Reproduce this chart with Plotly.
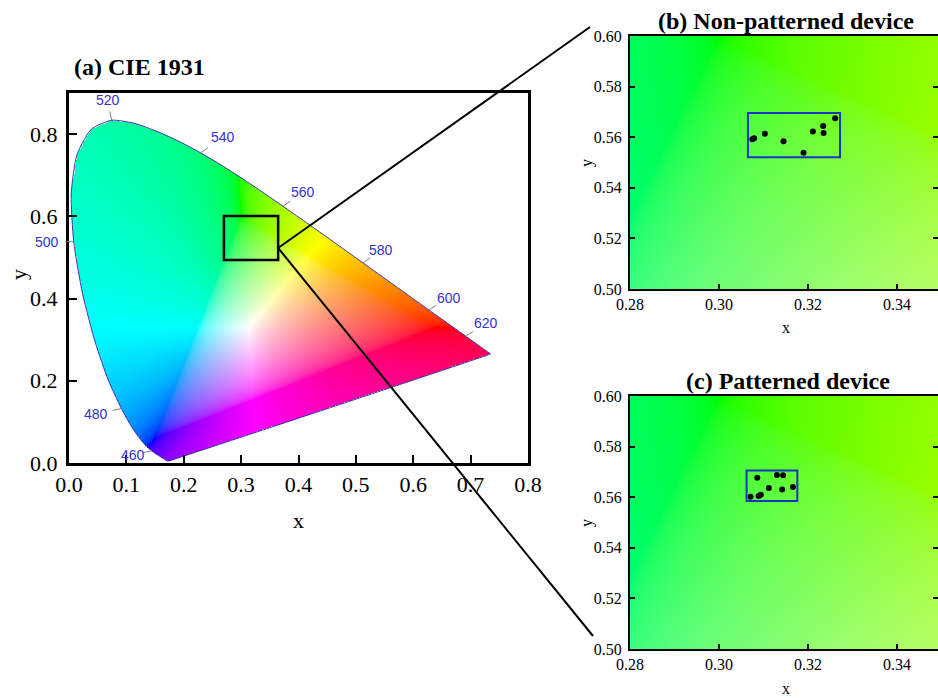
import numpy as np
import plotly.graph_objects as go

# ---------------- data ----------------
# CIE 1931 2-degree spectral locus (chromaticity x, y), 380-700 nm every 5 nm
wavelengths = list(range(380, 705, 5))
locus_x = [0.1741, 0.1740, 0.1738, 0.1736, 0.1733, 0.1730, 0.1726, 0.1721, 0.1714, 0.1703,
           0.1689, 0.1669, 0.1644, 0.1611, 0.1566, 0.1510, 0.1440, 0.1355, 0.1241, 0.1096,
           0.0913, 0.0687, 0.0454, 0.0235, 0.0082, 0.0039, 0.0139, 0.0389, 0.0743, 0.1142,
           0.1547, 0.1929, 0.2296, 0.2658, 0.3016, 0.3373, 0.3731, 0.4087, 0.4441, 0.4788,
           0.5125, 0.5448, 0.5752, 0.6029, 0.6270, 0.6482, 0.6658, 0.6801, 0.6915, 0.7006,
           0.7079, 0.7140, 0.7190, 0.7230, 0.7260, 0.7283, 0.7300, 0.7311, 0.7320, 0.7327,
           0.7334, 0.7340, 0.7344, 0.7346, 0.7347]
locus_y = [0.0050, 0.0050, 0.0049, 0.0049, 0.0048, 0.0048, 0.0048, 0.0048, 0.0051, 0.0058,
           0.0069, 0.0086, 0.0109, 0.0138, 0.0177, 0.0227, 0.0297, 0.0399, 0.0578, 0.0868,
           0.1327, 0.2007, 0.2950, 0.4127, 0.5384, 0.6548, 0.7502, 0.8120, 0.8338, 0.8262,
           0.8059, 0.7816, 0.7543, 0.7243, 0.6923, 0.6589, 0.6245, 0.5896, 0.5547, 0.5202,
           0.4866, 0.4544, 0.4242, 0.3965, 0.3725, 0.3514, 0.3340, 0.3197, 0.3083, 0.2993,
           0.2920, 0.2859, 0.2809, 0.2770, 0.2740, 0.2717, 0.2700, 0.2689, 0.2680, 0.2673,
           0.2666, 0.2660, 0.2656, 0.2654, 0.2653]
label_wavelengths = [460, 480, 500, 520, 540, 560, 580, 600, 620]

# zoom region marked in panel (a): x0, x1, y0, y1
zoom_box = [0.270, 0.3645, 0.494, 0.601]

# (b) Non-patterned device
b_x = [0.3075, 0.3079, 0.3103, 0.3145, 0.3190, 0.3211, 0.3234, 0.3235, 0.3261]
b_y = [0.5592, 0.5596, 0.5614, 0.5584, 0.5539, 0.5623, 0.5644, 0.5617, 0.5675]
b_box = [0.3065, 0.3272, 0.5521, 0.5696]

# (c) Patterned device
c_x = [0.3071, 0.3086, 0.3089, 0.3094, 0.3112, 0.3130, 0.3144, 0.3142, 0.3166]
c_y = [0.5602, 0.5677, 0.5605, 0.5610, 0.5636, 0.5688, 0.5687, 0.5630, 0.5640]
c_box = [0.3062, 0.3176, 0.5585, 0.5706]

a_xticks = [0.0, 0.1, 0.2, 0.3, 0.4, 0.5, 0.6, 0.7, 0.8]
a_yticks = [0.0, 0.2, 0.4, 0.6, 0.8]
z_xticks = [0.28, 0.30, 0.32, 0.34]
z_yticks = [0.50, 0.52, 0.54, 0.56, 0.58, 0.60]

# ---------------- layout geometry (pixels of a 938x698 canvas) ----------------
W, H = 938, 698
def px2paper_x(p): return p / W
def px2paper_y(p): return 1 - p / H

A_DOM_X = [px2paper_x(69), px2paper_x(528)]
A_DOM_Y = [px2paper_y(463), px2paper_y(93)]
A_RX = [0.0, 0.8]
A_RY = [0.0, 0.9]
Z_DOM_X = [px2paper_x(630), 1.0]
Z_RX = [0.28, 0.28 + 0.02 * (W - 630) / 89.0]
Z_RY = [0.50, 0.60]
B_DOM_Y = [px2paper_y(289), px2paper_y(36)]
C_DOM_Y = [px2paper_y(649), px2paper_y(396)]

# label placement (screen-pixel offsets from the locus point, y downwards)
LABEL_OFFSETS = {460: (-19, 4), 480: (-25, 6), 500: (-27, 0), 520: (-4, -20),
                 540: (22, -16), 560: (20, -14), 580: (18, -13), 600: (20, -12),
                 620: (20, -13)}

SERIF = "Liberation Serif"
SANS = "Liberation Sans"

# ---------------- colour computation ----------------
M = np.array([[3.2406, -1.5372, -0.4986],
              [-0.9689, 1.8758, 0.0415],
              [0.0557, -0.2040, 1.0570]])

def xy_to_rgb(xs, ys):
    ys = np.where(ys <= 1e-6, 1e-6, ys)
    X = xs / ys
    Y = np.ones_like(xs)
    Z = (1 - xs - ys) / ys
    xyz = np.stack([X, Y, Z], axis=-1)
    rgb = xyz @ M.T
    mn = np.minimum(rgb.min(axis=-1, keepdims=True), 0)
    rgb = rgb - mn
    mx = rgb.max(axis=-1, keepdims=True)
    mx[mx == 0] = 1
    rgb = rgb / mx
    rgb = np.where(rgb <= 0.0031308, 12.92 * rgb, 1.055 * np.power(rgb, 1 / 2.4) - 0.055)
    return np.clip(rgb * 255, 0, 255)

def inside_poly(px, py, vx, vy):
    res = np.zeros(px.shape, dtype=bool)
    n = len(vx)
    j = n - 1
    for i in range(n):
        xi, yi, xj, yj = vx[i], vy[i], vx[j], vy[j]
        if yi != yj:
            cond = ((yi > py) != (yj > py)) & (px < (xj - xi) * (py - yi) / (yj - yi) + xi)
            res ^= cond
        j = i
    return res

def make_image(xr, yr, d, mask=True):
    xs = np.arange(xr[0] + d / 2, xr[1], d)
    ys = np.arange(yr[0] + d / 2, yr[1], d)
    gx, gy = np.meshgrid(xs, ys)
    rgb = xy_to_rgb(gx, gy)
    if mask:
        alpha = inside_poly(gx, gy, np.array(locus_x), np.array(locus_y)).astype(float)
    else:
        alpha = np.ones_like(gx)
    z = np.dstack([rgb, alpha[..., None]]).astype(np.uint8)
    return z, xs[0], ys[0]

fig = go.Figure()

# panel (a) image
da = 0.0012
za, ax0, ay0 = make_image(A_RX, A_RY, da, mask=True)
fig.add_trace(go.Image(z=za, colormodel="rgba", x0=ax0, y0=ay0, dx=da, dy=da,
                       xaxis="x", yaxis="y", hoverinfo="skip"))

# spectral locus outline (closed with the line of purples)
fig.add_trace(go.Scatter(x=locus_x + [locus_x[0]], y=locus_y + [locus_y[0]], mode="lines",
                         line=dict(color="rgb(60,50,175)", width=1, shape="spline", smoothing=0.6),
                         xaxis="x", yaxis="y", hoverinfo="skip", showlegend=False))

def data2paper(v, rng, dom):
    return dom[0] + (v - rng[0]) / (rng[1] - rng[0]) * (dom[1] - dom[0])

# wavelength ticks & labels (in paper coords so they are not clipped)
shapes = []
annotations = []
for w in label_wavelengths:
    i = wavelengths.index(w)
    ox, oy = LABEL_OFFSETS[w]
    nn = np.hypot(ox, oy)
    nx, ny = ox / nn, -oy / nn
    px0 = data2paper(locus_x[i], A_RX, A_DOM_X)
    py0 = data2paper(locus_y[i], A_RY, A_DOM_Y)
    shapes.append(dict(type="line", xref="paper", yref="paper", x0=px0, y0=py0,
                       x1=px0 + 9 * nx / W, y1=py0 + 9 * ny / H,
                       line=dict(color="rgb(130,130,130)", width=1)))
    annotations.append(dict(x=px0 + ox / W, y=py0 - oy / H,
                            xref="paper", yref="paper", text=str(w), showarrow=False,
                            font=dict(family=SANS, size=14, color="rgb(50,50,210)"),
                            xanchor="center", yanchor="middle"))

# panels (b) and (c) images
dz = 0.00025
zb, bx0, by0 = make_image(Z_RX, Z_RY, dz, mask=False)
fig.add_trace(go.Image(z=zb, colormodel="rgba", x0=bx0, y0=by0, dx=dz, dy=dz,
                       xaxis="x2", yaxis="y2", hoverinfo="skip"))
fig.add_trace(go.Image(z=zb, colormodel="rgba", x0=bx0, y0=by0, dx=dz, dy=dz,
                       xaxis="x3", yaxis="y3", hoverinfo="skip"))

fig.add_trace(go.Scatter(x=b_x, y=b_y, mode="markers", marker=dict(color="black", size=6),
                         xaxis="x2", yaxis="y2", showlegend=False))
fig.add_trace(go.Scatter(x=c_x, y=c_y, mode="markers", marker=dict(color="black", size=6),
                         xaxis="x3", yaxis="y3", showlegend=False))

shapes.append(dict(type="rect", xref="x", yref="y", x0=zoom_box[0], x1=zoom_box[1],
                   y0=zoom_box[2], y1=zoom_box[3], line=dict(color="black", width=2.5)))
blue = "rgb(25,55,190)"
shapes.append(dict(type="rect", xref="x2", yref="y2", x0=b_box[0], x1=b_box[1],
                   y0=b_box[2], y1=b_box[3], line=dict(color=blue, width=2)))
shapes.append(dict(type="rect", xref="x3", yref="y3", x0=c_box[0], x1=c_box[1],
                   y0=c_box[2], y1=c_box[3], line=dict(color=blue, width=2)))

# connector lines from zoom box in (a) to panels (b) and (c)
start_x = data2paper(zoom_box[1], A_RX, A_DOM_X)
start_y = data2paper(0.523, A_RY, A_DOM_Y)
shapes.append(dict(type="line", xref="paper", yref="paper", x0=start_x, y0=start_y,
                   x1=px2paper_x(590), y1=px2paper_y(27), line=dict(color="black", width=2)))
shapes.append(dict(type="line", xref="paper", yref="paper", x0=start_x, y0=start_y,
                   x1=px2paper_x(593), y1=px2paper_y(636), line=dict(color="black", width=2)))

# titles and axis labels
def ann(text, x, y, size, bold=False, angle=0, xanchor="center"):
    return dict(text=f"<b>{text}</b>" if bold else text, x=px2paper_x(x), y=px2paper_y(y),
                xref="paper", yref="paper", showarrow=False, textangle=angle,
                xanchor=xanchor, yanchor="middle", font=dict(family=SERIF, size=size, color="black"))

annotations += [
    ann("(a) CIE 1931", 72, 67, 24, bold=True, xanchor="left"),
    ann("(b) Non-patterned device", 786, 21, 24, bold=True),
    ann("(c) Patterned device", 788, 381, 24, bold=True),
    ann("x", 298, 520, 22),
    ann("y", 18, 275, 22, angle=-90),
    ann("x", 786, 328, 16),
    ann("y", 587, 163, 16, angle=-90),
    ann("x", 786, 688, 16),
    ann("y", 587, 523, 16, angle=-90),
]

def fmt(v, n):
    return f"{v:.{n}f}"

common = dict(showgrid=False, zeroline=False, showline=True, linecolor="black",
              ticks="inside", tickcolor="black", fixedrange=True, automargin=False)
big = dict(family=SERIF, size=22, color="black")
small = dict(family=SERIF, size=16, color="black")

fig.update_layout(
    width=W, height=H, margin=dict(l=0, r=0, t=0, b=0, autoexpand=False),
    paper_bgcolor="white", plot_bgcolor="white", showlegend=False,
    font=dict(family=SERIF, color="black"),
    xaxis=dict(domain=A_DOM_X, range=A_RX, tickvals=a_xticks,
               ticktext=[fmt(v, 1) for v in a_xticks], linewidth=3, mirror=True,
               ticklen=8, tickwidth=2, tickfont=big, anchor="y", **common),
    yaxis=dict(domain=A_DOM_Y, range=A_RY, tickvals=a_yticks,
               ticktext=[fmt(v, 1) for v in a_yticks], linewidth=3, mirror=True,
               ticklen=8, tickwidth=2, tickfont=big, anchor="x",
               scaleanchor=False, ticklabelstandoff=4, **common),
    xaxis2=dict(domain=Z_DOM_X, range=Z_RX, tickvals=z_xticks,
                ticktext=[fmt(v, 2) for v in z_xticks], linewidth=2, mirror=True,
                ticklen=5, tickwidth=1.5, tickfont=small, anchor="y2", **common),
    yaxis2=dict(domain=B_DOM_Y, range=Z_RY, tickvals=z_yticks,
                ticktext=[fmt(v, 2) for v in z_yticks], linewidth=2, mirror="ticks",
                ticklen=5, tickwidth=1.5, tickfont=small, anchor="x2",
                scaleanchor=False, ticklabelstandoff=3, **common),
    xaxis3=dict(domain=Z_DOM_X, range=Z_RX, tickvals=z_xticks,
                ticktext=[fmt(v, 2) for v in z_xticks], linewidth=2, mirror=True,
                ticklen=5, tickwidth=1.5, tickfont=small, anchor="y3", **common),
    yaxis3=dict(domain=C_DOM_Y, range=Z_RY, tickvals=z_yticks,
                ticktext=[fmt(v, 2) for v in z_yticks], linewidth=2, mirror="ticks",
                ticklen=5, tickwidth=1.5, tickfont=small, anchor="x3",
                scaleanchor=False, ticklabelstandoff=3, **common),
    shapes=shapes,
    annotations=annotations,
)

fig.write_html("out.html")
